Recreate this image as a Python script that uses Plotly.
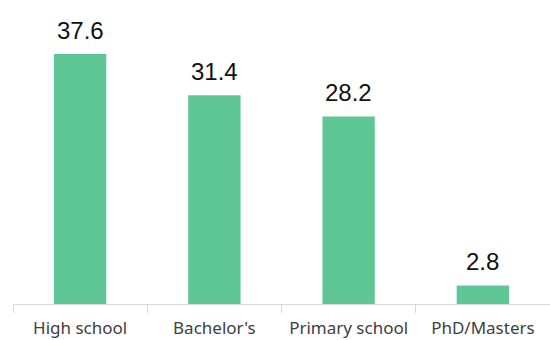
import plotly.graph_objects as go

categories = ["High school", "Bachelor's", "Primary school", "PhD/Masters"]
values = [37.6, 31.4, 28.2, 2.8]
labels = ["37.6", "31.4", "28.2", "2.8"]

bar_color = "#5fc795"

fig = go.Figure(go.Bar(
    x=categories, y=values, marker=dict(color=bar_color, line=dict(width=0)),
    width=0.39, hoverinfo="skip",
))

for c, v, t in zip(categories, values, labels):
    fig.add_annotation(x=c, y=v, text=t, showarrow=False, yanchor="bottom",
                       yshift=8, font=dict(family="Liberation Sans, Arial", size=24, color="#111111"))

fig.update_layout(
    width=550, height=340,
    margin=dict(l=13, r=0, t=10, b=36),
    paper_bgcolor="white", plot_bgcolor="white",
    showlegend=False,
    xaxis=dict(
        showline=True, linecolor="#d9d9d9", linewidth=1,
        ticks="outside", tickson="boundaries", ticklen=8, tickcolor="#d9d9d9",
        ticklabelstandoff=9,
        tickfont=dict(family="Noto Sans, Inter", size=17, color="#404040"),
        showgrid=False,
    ),
    yaxis=dict(range=[0, 44.2], visible=False, showgrid=False, zeroline=False),
)

fig.write_html("out.html")
